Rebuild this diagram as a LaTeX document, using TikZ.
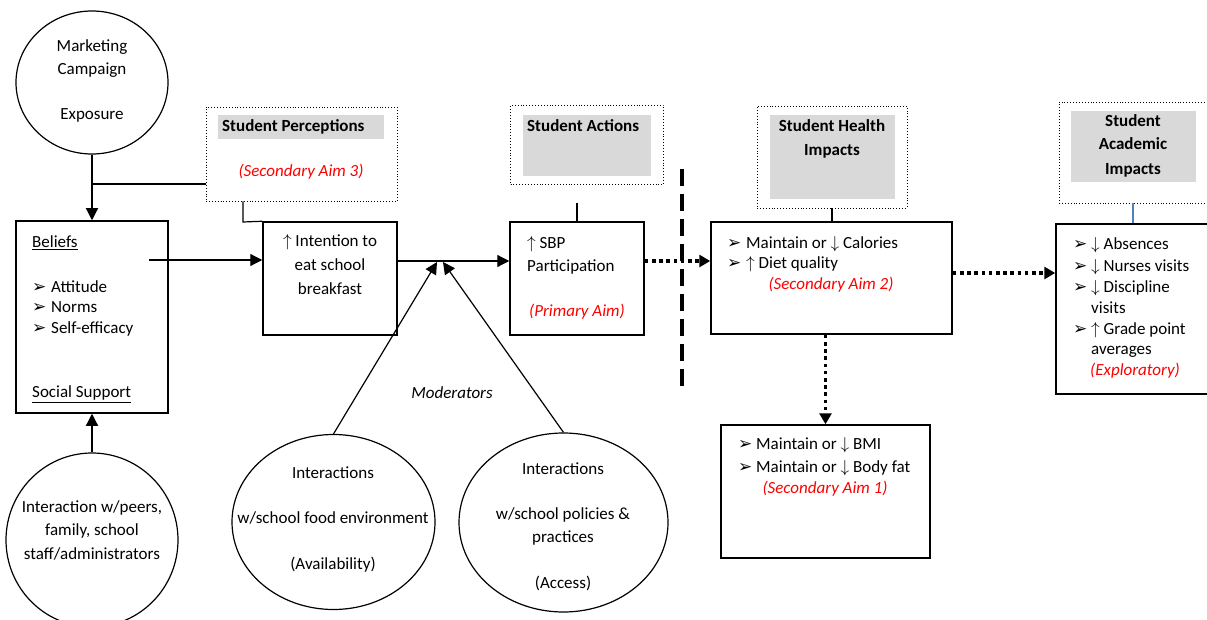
\documentclass[tikz,border=0pt]{standalone}
\usepackage{fontspec}
\setmainfont{Carlito}
\newfontfamily\symf{DejaVu Sans}
\usetikzlibrary{arrows.meta,shapes.geometric}
\definecolor{hdrgray}{HTML}{D9D9D9}
\definecolor{aimred}{HTML}{FF0000}
\definecolor{linkblue}{HTML}{4F81BD}
\newcommand{\bul}{{\symf\fontsize{17}{17}\selectfont ➢}}
\newcommand{\upar}{$\uparrow$}
\newcommand{\dnar}{$\downarrow$}
\newcommand{\ulab}[1]{\underline{#1}}
\tikzset{
  solidbox/.style={draw, line width=1.5pt, inner sep=0pt},
  dotbox/.style={draw, dotted, line width=0.9pt, inner sep=0pt},
  hdrbox/.style={fill=hdrgray, draw=none, inner sep=0pt},
  oval/.style={draw, ellipse, line width=1.2pt, inner sep=0pt},
  txt/.style={inner sep=0pt, anchor=mid, yshift=-3.5pt},
  txtw/.style={inner sep=0pt, anchor=mid west, yshift=-3.5pt},
  hdr/.style={inner sep=0pt, anchor=mid, yshift=-3.5pt, font=\fontsize{17}{20}\selectfont\bfseries},
  aim/.style={inner sep=0pt, anchor=mid, yshift=-3.5pt, text=aimred, font=\fontsize{17}{20}\selectfont\itshape},
  conn/.style={line width=1.2pt},
  arr/.style={line width=1.2pt, -{Triangle[length=12pt,width=12pt]}},
  dotarr/.style={line width=3.6pt, dash pattern=on 3.6pt off 3.6pt, -{Triangle[length=11pt,width=12pt]}},
}
\begin{document}
\begin{tikzpicture}[x=1pt,y=-1pt,font=\fontsize{17}{20}\selectfont]
\clip (0,0) rectangle (1207,620);
\fill[white] (0,0) rectangle (1207,620);

% ---- Marketing circle
\node[oval, minimum width=152pt, minimum height=143pt] (mkt) at (92,82.5) {};
\node[txt] (mkt1) at (92,46) {Marketing};
\node[txt] (mkt2) at (92,69) {Campaign};
\node[txt] (mkt3) at (92,114) {Exposure};

% ---- Beliefs box
\node[solidbox, minimum width=152pt, minimum height=192pt] (beliefs) at (92,317) {};
\node[txtw] (bl1) at (32,242) {\ulab{Beliefs}};
\node[txtw] (bb1) at (32,287) {\bul};
\node[txtw] (bt1) at (51,287) {Attitude};
\node[txtw] (bb2) at (32,307) {\bul};
\node[txtw] (bt2) at (51,307) {Norms};
\node[txtw] (bb3) at (32,328) {\bul};
\node[txtw] (bt3) at (51,328) {Self-efficacy};
\node[txtw] (bl2) at (32,392) {\ulab{Social Support}};

% ---- Interaction circle (bottom left)
\node[oval, minimum width=172pt, minimum height=174pt] (peers) at (92,540) {};
\node[txt] (pe1) at (92,507) {Interaction w/peers,};
\node[txt] (pe2) at (92,530) {family, school};
\node[txt] (pe3) at (92,554) {staff/administrators};

% ---- Student Perceptions
\node[dotbox, minimum width=191pt, minimum height=94pt] (percbox) at (301.5,154) {};
\node[hdrbox, minimum width=166pt, minimum height=24pt] (perchdr) at (301,127) {};
\node[hdr, anchor=mid west] (perct) at (222,126) {Student Perceptions};
\node[aim] (aim3) at (301,171) {(Secondary Aim 3)};

% ---- Intention box
\node[solidbox, minimum width=134pt, minimum height=113pt] (intent) at (330,278.5) {};
\node[txt] (in1) at (330,241) {\upar\ Intention to};
\node[txt] (in2) at (330,265) {eat school};
\node[txt] (in3) at (330,289) {breakfast};

% ---- Student Actions
\node[dotbox, minimum width=153pt, minimum height=79pt] (actbox) at (587,145) {};
\node[hdrbox, minimum width=128pt, minimum height=61pt] (acthdr) at (587,145.3) {};
\node[hdr, anchor=mid west] (actt) at (527,126) {Student Actions};

% ---- SBP box
\node[solidbox, minimum width=134pt, minimum height=113pt] (sbp) at (577,278.5) {};
\node[txtw] (sb1) at (527,243) {\upar\ SBP};
\node[txtw] (sb2) at (527,266) {Participation};
\node[aim] (aimp) at (577,311) {(Primary Aim)};

% ---- Moderators
\node[oval, minimum width=203pt, minimum height=175pt] (mod1) at (333.5,522) {};
\node[txt] (m11) at (333,473) {Interactions};
\node[txt] (m12) at (333,518) {w/school food environment};
\node[txt] (m13) at (333,564) {(Availability)};
\node[oval, minimum width=209pt, minimum height=179pt] (mod2) at (563.5,522.5) {};
\node[txt] (m21) at (563,469) {Interactions};
\node[txt] (m22) at (563,514) {w/school policies \&};
\node[txt] (m23) at (563,537) {practices};
\node[txt] (m24) at (563,583) {(Access)};
\node[txt, font=\fontsize{17}{20}\selectfont\itshape] (modlbl) at (452,393) {Moderators};

% ---- Student Health Impacts
\node[dotbox, minimum width=150pt, minimum height=102pt] (hlthbox) at (832,157) {};
\node[hdrbox, minimum width=125pt, minimum height=84pt] (hlthhdr) at (832.5,157) {};
\node[hdr] (hh1) at (832,126) {Student Health};
\node[hdr] (hh2) at (832,150) {Impacts};

\node[solidbox, minimum width=241pt, minimum height=112pt] (health) at (831.5,278) {};
\node[txtw] (hb1) at (727,243) {\bul};
\node[txtw] (ht1) at (746,243) {Maintain or \dnar\ Calories};
\node[txtw] (hb2) at (727,263) {\bul};
\node[txtw] (ht2) at (746,263) {\upar\ Diet quality};
\node[aim] (aim2) at (831,284) {(Secondary Aim 2)};

% ---- BMI box
\node[solidbox, minimum width=209pt, minimum height=133pt] (bmi) at (825.5,491.5) {};
\node[txtw] (mb1) at (738,444) {\bul};
\node[txtw] (mt1) at (756,444) {Maintain or \dnar\ BMI};
\node[txtw] (mb2) at (738,467) {\bul};
\node[txtw] (mt2) at (756,467) {Maintain or \dnar\ Body fat};
\node[aim] (aim1) at (825,488) {(Secondary Aim 1)};

% ---- Student Academic Impacts
\node[dotbox, minimum width=160pt, minimum height=101pt] (acadbox) at (1139,152.5) {};
\node[hdrbox, minimum width=125pt, minimum height=71pt] (acadhdr) at (1133.5,146.5) {};
\node[hdr] (ah1) at (1133,121) {Student};
\node[hdr] (ah2) at (1133,144) {Academic};
\node[hdr] (ah3) at (1133,169) {Impacts};

\node[solidbox, minimum width=164pt, minimum height=170pt] (acad) at (1138,309) {};
\node[txtw] (ab1) at (1073,244) {\bul};
\node[txtw] (at1) at (1091,244) {\dnar\ Absences};
\node[txtw] (ab2) at (1073,266) {\bul};
\node[txtw] (at2) at (1091,266) {\dnar\ Nurses visits};
\node[txtw] (ab3) at (1073,287) {\bul};
\node[txtw] (at3) at (1091,287) {\dnar\ Discipline};
\node[txtw] (at3b) at (1091,308) {visits};
\node[txtw] (ab4) at (1073,329) {\bul};
\node[txtw] (at4) at (1091,329) {\upar\ Grade point};
\node[txtw] (at4b) at (1091,349) {averages};
\node[txtw, text=aimred, font=\fontsize{17}{20}\selectfont\itshape] (aimx) at (1090,370) {(Exploratory)};

% ---- coordinates
\coordinate (mkj) at (92,184);
\coordinate (pdn) at (243,222);
\coordinate (bstart) at (149,260);
\coordinate (join) at (440,261);
\coordinate (tipL) at (437,262);
\coordinate (tipR) at (443,262);
\coordinate (actlow) at (577,203);
\coordinate (dashtop) at (682,169);
\coordinate (dashbot) at (682,393);
\coordinate (hy) at (952,273);

% ---- connectors
\draw[arr] (mkt.south) -- (beliefs.north);
\draw[conn] (mkj) -- (mkj -| percbox.west);
\draw[conn] (percbox.south -| pdn) -- (pdn) -- (intent.north west);
\draw[arr] (bstart) -- (bstart -| intent.west);
\draw[arr] (intent.east |- join) -- (join -| sbp.west);
\draw[arr] (mod1.north) -- (tipL);
\draw[arr] (mod2.north) -- (tipR);
\draw[conn] (actlow) -- (actlow |- sbp.north);
\draw[arr] (peers.north) -- (beliefs.south);
\draw[dotarr] (sbp.east |- join) -- (join -| health.west);
\draw[line width=4pt, dash pattern=on 17pt off 8pt] (dashtop) -- (dashbot);
\draw[conn] (hlthbox.south) -- (hlthbox.south |- health.north);
\draw[dotarr] (health.east |- hy) -- (hy -| acad.west);
\draw[dotarr] (health.south -| bmi.north) -- (bmi.north);
\draw[linkblue, line width=1.2pt] (acadbox.south -| ah1) -- (ah1 |- acad.north);
\end{tikzpicture}
\end{document}
